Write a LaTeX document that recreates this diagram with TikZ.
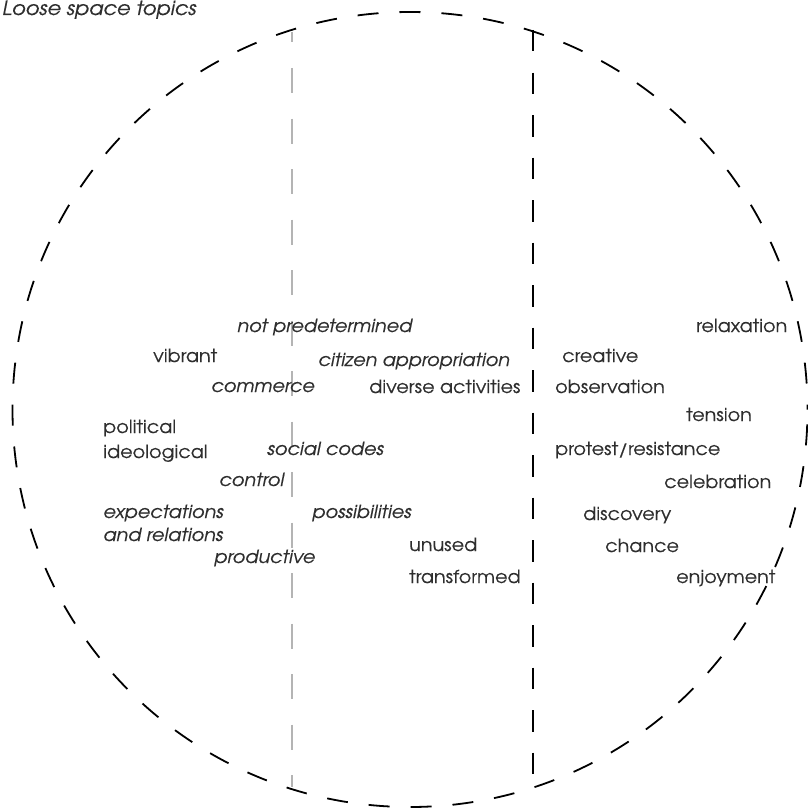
\documentclass[tikz,border=0pt]{standalone}
\usepackage{fontspec}
\setmainfont{TeX Gyre Adventor}[FakeStretch=1.065, FakeBold=0.3]
\definecolor{textgray}{HTML}{2E2E2E}
\definecolor{axisgray}{HTML}{B4B4B4}
\begin{document}
\begin{tikzpicture}[x=1pt,y=-1pt,
  word/.style={anchor=base west, inner sep=0pt, text=textgray,
    font=\fontsize{18}{21}\selectfont},
  iword/.style={word, font=\fontsize{18}{21}\selectfont\itshape},
  rim/.style={draw=black, line width=1.8pt, dash pattern=on 21pt off 21pt, dash phase=16pt},
  divider/.style={draw=black, line width=1.8pt, dash pattern=on 21.5pt off 21pt},
  softdivider/.style={draw=axisgray, line width=2.2pt, dash pattern=on 25pt off 25.5pt, dash phase=14.5pt}]
\useasboundingbox (0,0) rectangle (807,808);

% outer dashed boundary
\coordinate (centre) at (410,409.5);
\draw[rim] (centre) circle[radius=397.5pt];

% the two vertical dividers
\coordinate (gtop) at (292,32);
\coordinate (gbot) at (292,787);
\coordinate (btop) at (533,30);
\coordinate (bbot) at (533,774);
\draw[softdivider] (gtop) -- (gbot);
\draw[divider] (btop) -- (bbot);

% heading
\node[iword, font=\fontsize{19.6}{23}\selectfont\itshape] (title) at (2,15) {Loose space topics};

% left and middle group
\node[iword] (notpre) at (237,332) {not predetermined};
\node[word]  (vibrant) at (153,362) {vibrant};
\node[iword] (citizen) at (318,366) {citizen appropriation};
\node[iword] (commerce) at (211,392) {commerce};
\node[word]  (diverse) at (369,393) {diverse activities};
\node[word]  (political) at (103,433) {political};
\node[word]  (ideological) at (103,458) {ideological};
\node[iword] (social) at (267,455) {social codes};
\node[iword] (control) at (219,486) {control};
\node[iword] (expect) at (103,518) {expectations};
\node[iword] (relations) at (103,541) {and relations};
\node[iword] (possib) at (312,518) {possibilities};
\node[iword] (productive) at (214,563) {productive};
\node[word]  (unused) at (409,551) {unused};
\node[word]  (transformed) at (409,583) {transformed};

% right group
\node[word] (relaxation) at (696,332) {relaxation};
\node[word] (creative) at (562,362) {creative};
\node[word] (observation) at (555,393) {observation};
\node[word] (tension) at (686,421) {tension};
\node[word] (protest) at (555,455) {protest/resistance};
\node[word] (celebration) at (664,488) {celebration};
\node[word] (discovery) at (583,520) {discovery};
\node[word] (chance) at (605,552) {chance};
\node[word] (enjoyment) at (676,583) {enjoyment};
\end{tikzpicture}
\end{document}
